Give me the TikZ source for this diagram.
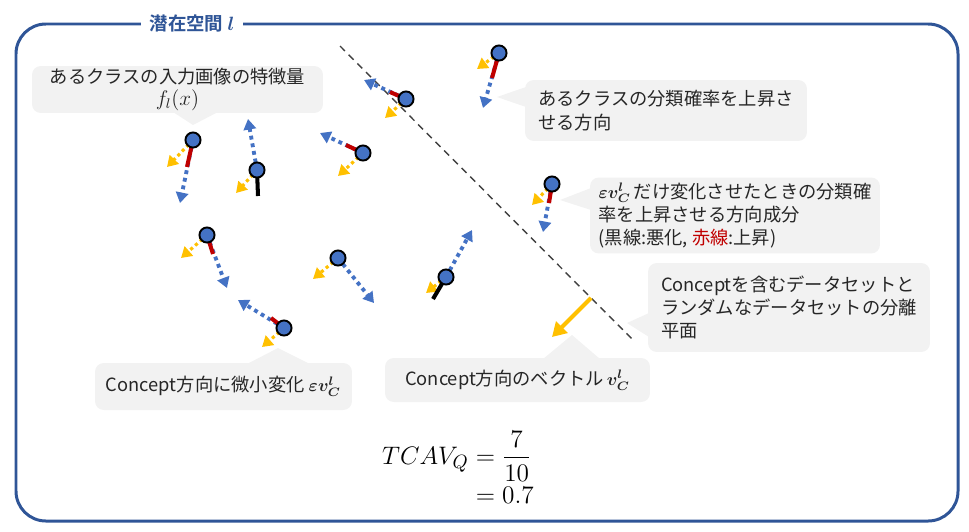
\documentclass[tikz,border=0pt]{standalone}
\usepackage[no-math]{fontspec}
\setmainfont{Noto Sans CJK JP}[BoldFont={Noto Sans CJK JP Bold}]
\usepackage{amsmath,bm}
\usetikzlibrary{arrows.meta}
\definecolor{Feature}{RGB}{68,114,196}
\definecolor{Raise}{RGB}{192,0,0}
\definecolor{Concept}{RGB}{255,192,0}
\definecolor{Frame}{RGB}{47,85,151}
\definecolor{Bubble}{RGB}{242,242,242}
\definecolor{Ink}{RGB}{38,38,38}
\definecolor{Plane}{RGB}{64,64,64}

\tikzset{
    feat/.style={circle, draw=black, line width=1.1pt, fill=Feature, minimum size=8.6pt, inner sep=0pt},
    grad/.style={Feature, line width=2.2pt, dash pattern=on 2.2pt off 2.2pt, -{Triangle[length=6pt,width=7pt]}},
    towardC/.style={Concept, line width=1.8pt, dash pattern=on 1.8pt off 1.8pt, -{Triangle[length=6pt,width=7pt]}},
    comp/.style={line width=2.3pt},
    bubble/.style={fill=Bubble, rounded corners=5pt, text=Ink, font=\fontsize{10.4}{13.3}\selectfont, align=left, inner sep=0pt},
}

\begin{document}
\begin{tikzpicture}[x=0.02cm, y=-0.02cm]
    %% Background
    \useasboundingbox (0,0) rectangle (969,531);

    %% Latent space frame
    \draw[Frame, line width=1.7pt, rounded corners=17pt] (16,24) rectangle (958,521);
    \node[fill=white, inner xsep=5pt, inner ysep=1pt, text=Frame, font=\bfseries\fontsize{10.5}{12}\selectfont] (title) at (192,23) {潜在空間 $\bm{l}$};

    %% Callouts
    \node[bubble, align=center, minimum width=5.82cm, minimum height=0.94cm] (calA) at (177.5,89.5) {あるクラスの入力画像の特徴量\\[-1pt]{\fontsize{12}{13}\selectfont$f_l(x)$}};
    \coordinate (tipA) at (193,125);
    \fill[Bubble] (173,112) to (tipA) to (218,112) -- cycle;

    \node[bubble, minimum width=5.64cm, minimum height=1.22cm] (calB) at (666,110.5) {あるクラスの分類確率を上昇さ\\せる方向};
    \coordinate (tipB) at (497,97);
    \fill[Bubble] (526,87) to (tipB) to (526,107) -- cycle;

    \node[bubble, minimum width=5.8cm, minimum height=1.52cm] (calC) at (735,215.5) {$\bm{\varepsilon v_C^l}$\,だけ変化させたときの分類確\\率を上昇させる方向成分\\(黒線:悪化, \textcolor{Raise}{赤線}:上昇)};
    \coordinate (tipC) at (560,200);
    \fill[Bubble] (591,188) to (tipC) to (591,210) -- cycle;

    \node[bubble, minimum width=5.64cm, minimum height=1.78cm] (calD) at (789,307.5) {Conceptを含むデータセットと\\ランダムなデータセットの分離\\平面};
    \coordinate (tipD) at (627,323);
    \fill[Bubble] (649,313) to (tipD) to (649,337) -- cycle;

    \node[bubble, minimum width=5.3cm, minimum height=0.88cm] (calE) at (517.5,380) {Concept方向のベクトル\,$\bm{v_C^l}$};
    \coordinate (tipE) at (572,335);
    \fill[Bubble] (543,359) to (tipE) to (600,359) -- cycle;

    \node[bubble, minimum width=5.14cm, minimum height=0.94cm] (calF) at (223.5,386.5) {Concept方向に微小変化 $\bm{\varepsilon v_C^l}$};
    \coordinate (tipF) at (278,348);
    \fill[Bubble] (247,364) to (tipF) to (310,364) -- cycle;

    %% Separating plane
    \coordinate (hp1) at (340,46);
    \coordinate (hp2) at (632,339);
    \draw[Plane, line width=0.8pt, dash pattern=on 4pt off 3pt] (hp1) to (hp2);

    %% Concept vector
    \coordinate (cvS) at (591,298);
    \coordinate (cvE) at (552,337);
    \draw[Concept, line width=2.3pt, -{Triangle[length=8pt,width=9pt]}] (cvS) to (cvE);

    %% Features
    \foreach \i/\px/\py/\pc/\gx/\gy/\bx/\by/\yx/\yy in {
        1/193/140/Raise/187/167/180/203/167/167,
        2/257/170/black/258/196/248/119/236/193,
        3/363/153/Raise/346/145/320/133/338/176,
        4/406/99/Raise/390/92/364/80/385/118,
        5/499/53/Raise/492/78/483/108/477/69,
        6/552/184/Raise/549/203/543/232/532/205,
        7/207/235/Raise/213/254/227/288/181/258,
        8/284/328/Raise/271/318/238/300/262/347,
        9/338/258/none/338/258/374/303/313/279,
        10/446/277/black/433/299/472/230/426/293}
    {
        \coordinate (p\i) at (\px,\py);
        \coordinate (g\i) at (\gx,\gy);
        \coordinate (b\i) at (\bx,\by);
        \coordinate (y\i) at (\yx,\yy);
        \draw[grad] (p\i) to (b\i);
        \draw[towardC] (p\i) to (y\i);
        \draw[comp, draw=\pc] (p\i) to (g\i);
        \node[feat] (dot\i) at (p\i) {};
    }

    %% Score
    \node[font=\fontsize{15}{18}\selectfont] (tcav) at (458,472) {$\begin{aligned} TCAV_Q &= \frac{7}{10}\\[-4pt] &= 0.7\end{aligned}$};
\end{tikzpicture}
\end{document}
